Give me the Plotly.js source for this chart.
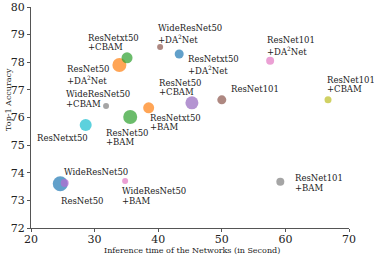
<!DOCTYPE html>
<html>
<head>
<meta charset="utf-8">
<script src="https://cdn.plot.ly/plotly-3.0.1.min.js"></script>
<style>html,body{margin:0;padding:0;background:#fff}#chart{width:374px;height:257px}</style>
</head>
<body>
<div id="chart"></div>
<script>
// Data
var models = ["ResNet50","WideResNet50","WideResNet50<br>+BAM","ResNetxt50","ResNet50<br>+BAM","ResNetxt50<br>+BAM","WideResNet50<br>+CBAM","ResNet50<br>+DA<sup>2</sup>Net","ResNetxt50<br>+CBAM","WideResNet50<br>+DA<sup>2</sup>Net","ResNetxt50<br>+DA<sup>2</sup>Net","ResNet50<br>+CBAM","ResNet101","ResNet101<br>+DA<sup>2</sup>Net","ResNet101<br>+CBAM","ResNet101<br>+BAM"];
var inferenceTime = [24.6, 25.3, 34.8, 28.6, 35.6, 38.5, 31.8, 33.9, 35.1, 40.3, 43.3, 45.3, 50.0, 57.6, 66.7, 59.2];
var top1Accuracy = [73.6, 73.63, 73.7, 75.73, 76.02, 76.35, 76.42, 77.9, 78.16, 78.55, 78.3, 76.53, 76.64, 78.05, 76.64, 73.67];
var modelSize = [15, 8, 6, 12, 14, 11, 6, 14, 11, 6, 9, 13, 9, 8, 7, 8];

// Styling (not data)
var colors = ["#1f77b4","#b66ad2","#e377c2","#17becf","#2ca02c","#ff7f0e","#7f7f7f","#ff7f0e","#2ca02c","#8c564b","#1f77b4","#9467bd","#8c564b","#e377c2","#bcbd22","#7f7f7f"];
var labelDx = [22, -3, -5, -51, -26, -1, -42, -54, -41, -4, 7, -35, 7, -5, -3, 13];
var labelDy = [17, -11, 15, 13, 20.5, 14.5, -7, 9.5, -15.5, -13.5, 10.5, -15.5, -11, -15.5, -15.5, 1];

var font = "DejaVu Serif";
var annotations = [];
models.forEach(function(m, i){
  var lines = m.split('<br>');
  var gap = m.indexOf('<sup>') >= 0 ? 10.5 : 9.5;
  lines.forEach(function(line, k){
    var off = (k - (lines.length - 1) / 2) * gap;
    annotations.push({
      x: inferenceTime[i], y: top1Accuracy[i], xref: 'x', yref: 'y',
      text: line, showarrow: false,
      xanchor: i === 0 ? 'center' : 'left', yanchor: 'middle', align: 'left',
      xshift: labelDx[i], yshift: -(labelDy[i] + off),
      font: {family: font, size: 8.5, color: '#222'}
    });
  });
});
annotations.push({
  xref: 'paper', yref: 'paper', x: 0.506, y: -0.1, xanchor: 'center', yanchor: 'middle',
  text: 'Inference time of the Networks (in Second)', showarrow: false,
  font: {family: font, size: 8, color: '#222'}
});
annotations.push({
  xref: 'paper', yref: 'paper', x: -0.069, y: 0.58, xanchor: 'center', yanchor: 'middle',
  text: 'Top-1 Accuracy', showarrow: false, textangle: -90,
  font: {family: font, size: 8, color: '#222'}
});

var trace = {
  x: inferenceTime, y: top1Accuracy, mode: 'markers', type: 'scatter',
  marker: {size: modelSize, color: colors, line: {width: 0}},
  hoverinfo: 'skip'
};

var axisCommon = {
  showgrid: false, zeroline: false, showline: true, linecolor: '#555', linewidth: 1,
  ticks: 'outside', ticklen: 3, tickcolor: '#555', tickwidth: 1,
  tickfont: {family: font, size: 11, color: '#222'}
};

var layout = {
  width: 374, height: 257,
  margin: {l: 31, r: 25, t: 7, b: 29, pad: 0},
  paper_bgcolor: '#fff', plot_bgcolor: '#fff',
  showlegend: false,
  xaxis: Object.assign({}, axisCommon, {range: [20, 70], dtick: 10, tick0: 20, ticklabelstandoff: -2}),
  yaxis: Object.assign({}, axisCommon, {range: [72, 80], dtick: 1, tick0: 72}),
  annotations: annotations
};

Plotly.newPlot('chart', [trace], layout, {staticPlot: true, displayModeBar: false});
</script>
</body>
</html>
